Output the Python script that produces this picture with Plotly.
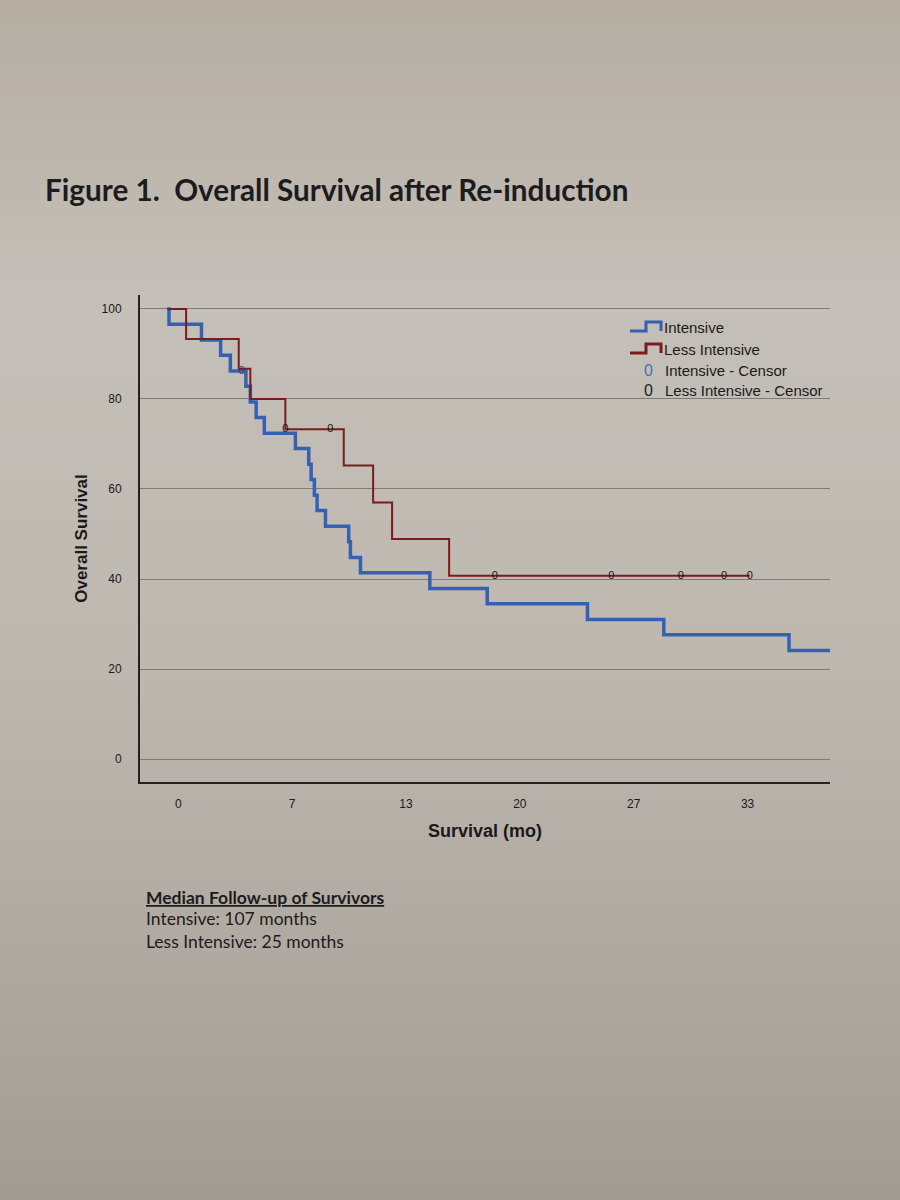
import plotly.graph_objects as go

# ---- data (months, % surviving) ----
intensive_times = [0, 0.1, 2.0, 3.12, 3.69, 4.6, 4.86, 5.2, 5.68, 7.5, 8.28, 8.42, 8.61,
                   8.77, 9.26, 10.62, 10.72, 11.31, 15.37, 18.73, 24.6, 29.07, 36.4]
intensive_surv = [100, 96.6, 93.1, 89.7, 86.2, 82.8, 79.3, 75.9, 72.4, 69.0, 65.5, 62.1, 58.6,
                  55.2, 51.7, 48.3, 44.8, 41.4, 37.9, 34.5, 31.0, 27.6, 24.1]
intensive_end = 40
intensive_censor_t = [4.35]
intensive_censor_s = [86.2]

less_times = [0, 1.1, 4.18, 4.86, 6.91, 10.33, 12.05, 13.16, 16.5]
less_surv = [100, 93.3, 86.7, 80.0, 73.3, 65.2, 57.0, 48.9, 40.7]
less_end = 34.1
less_censor_t = [6.91, 9.55, 19.17, 26.0, 30.07, 32.6, 34.1]
less_censor_s = [73.3, 73.3, 40.7, 40.7, 40.7, 40.7, 40.7]

x_tick_labels = ["0", "7", "13", "20", "27", "33"]
x_tick_offset = 0.64
x_tick_step = 20 / 3
y_ticks = [0, 20, 40, 60, 80, 100]

BLUE = "#3461b3"
RED = "#7a1c1c"
BG_STOPS = [(0, (181, 173, 162)), (300, (196, 191, 184)), (650, (190, 184, 176)),
            (1000, (174, 167, 158)), (1200, (162, 155, 145))]

SANS = "Liberation Sans, Arial"
CAL = "Lato, Open Sans"

fig = go.Figure()

fig.add_trace(go.Scatter(x=intensive_times + [intensive_end],
                         y=intensive_surv + [intensive_surv[-1]],
                         mode="lines", line=dict(shape="hv", color=BLUE, width=3.5),
                         showlegend=False, hoverinfo="skip"))
fig.add_trace(go.Scatter(x=less_times + [less_end],
                         y=less_surv + [less_surv[-1]],
                         mode="lines", line=dict(shape="hv", color=RED, width=2),
                         showlegend=False, hoverinfo="skip"))
fig.add_trace(go.Scatter(x=intensive_censor_t, y=intensive_censor_s, mode="text",
                         text=["0"] * len(intensive_censor_t),
                         textfont=dict(family=SANS, size=11, color="#2c3d63"),
                         showlegend=False, hoverinfo="skip"))
fig.add_trace(go.Scatter(x=less_censor_t, y=less_censor_s, mode="text",
                         text=["0"] * len(less_censor_t),
                         textfont=dict(family=SANS, size=11, color="#151515"),
                         showlegend=False, hoverinfo="skip"))

# plot area in pixels: left 140, right 830, top 295, bottom 782
L, R, T, B = 140, 830, 295, 782
W, H = 900, 1200

def px(x):
    return (x - L) / (R - L)

def py(y):
    return (B - y) / (B - T)

shapes = []
annotations = []

# photographed-paper background (vertical shading bands)
def bg_at(y):
    for (y0, c0), (y1, c1) in zip(BG_STOPS[:-1], BG_STOPS[1:]):
        if y0 <= y <= y1:
            f = (y - y0) / (y1 - y0)
            return tuple(int(round(a + (b - a) * f)) for a, b in zip(c0, c1))
    return BG_STOPS[-1][1]

band = 20
for y0 in range(0, H, band):
    c = bg_at(y0 + band / 2)
    shapes.append(dict(type="rect", xref="paper", yref="paper", layer="below",
                       x0=px(0), x1=px(W), y0=py(y0 + band + 1), y1=py(y0),
                       fillcolor="rgb({},{},{})".format(*c), line=dict(width=0)))

# custom legend
leg_items = [
    ("Intensive", BLUE, 3, 327),
    ("Less Intensive", RED, 3, 349),
]
for label, col, w, yy in leg_items:
    path = "M {} {} L {} {} L {} {} L {} {} L {} {}".format(
        px(630), py(yy + 4), px(646), py(yy + 4), px(646), py(yy - 5),
        px(661), py(yy - 5), px(661), py(yy + 4))
    shapes.append(dict(type="path", xref="paper", yref="paper", path=path,
                       line=dict(color=col, width=w)))
    annotations.append(dict(xref="paper", yref="paper", x=px(662), y=py(yy),
                            text=label, showarrow=False, xanchor="left", yanchor="middle",
                            font=dict(family=SANS, size=15, color="#1a1a1a")))
for label, col, yy in [("Intensive - Censor", "#4a6fb0", 370),
                       ("Less Intensive - Censor", "#222222", 390)]:
    annotations.append(dict(xref="paper", yref="paper", x=px(648), y=py(yy),
                            text="0", showarrow=False, xanchor="center", yanchor="middle",
                            font=dict(family=SANS, size=16, color=col)))
    annotations.append(dict(xref="paper", yref="paper", x=px(663), y=py(yy),
                            text=label, showarrow=False, xanchor="left", yanchor="middle",
                            font=dict(family=SANS, size=15, color="#1a1a1a")))

# title and notes
annotations.append(dict(xref="paper", yref="paper", x=px(43), y=py(189),
                        text="<b>Figure 1.  Overall Survival after Re-induction</b>",
                        showarrow=False, xanchor="left", yanchor="middle",
                        font=dict(family=CAL, size=29.7, color="#1c1c1c")))
annotations.append(dict(xref="paper", yref="paper", x=px(144), y=py(897),
                        text="<b><u>Median Follow-up of Survivors</u></b>",
                        showarrow=False, xanchor="left", yanchor="middle",
                        font=dict(family=CAL, size=17.5, color="#1c1c1c")))
annotations.append(dict(xref="paper", yref="paper", x=px(144), y=py(918),
                        text="Intensive: 107 months",
                        showarrow=False, xanchor="left", yanchor="middle",
                        font=dict(family=CAL, size=17.5, color="#1c1c1c")))
annotations.append(dict(xref="paper", yref="paper", x=px(144), y=py(941),
                        text="Less Intensive: 25 months",
                        showarrow=False, xanchor="left", yanchor="middle",
                        font=dict(family=CAL, size=17.5, color="#1c1c1c")))

fig.update_layout(
    width=W, height=H,
    margin=dict(l=L, r=W - R, t=T, b=H - B),
    paper_bgcolor="rgb(188,182,174)", plot_bgcolor="rgba(0,0,0,0)",
    shapes=shapes, annotations=annotations,
    showlegend=False,
    xaxis=dict(range=[-1.6, 38.8],
               tickvals=[x_tick_offset + i * x_tick_step for i in range(len(x_tick_labels))],
               ticktext=x_tick_labels, showgrid=False, zeroline=False,
               showline=True, linecolor="#222222", linewidth=2,
               ticks="outside", ticklen=10, tickcolor="rgba(0,0,0,0)",
               tickfont=dict(family=SANS, size=12, color="#1a1a1a"),
               title=dict(text="<b>Survival (mo)</b>", standoff=14,
                          font=dict(family=SANS, size=18, color="#1a1a1a"))),
    yaxis=dict(range=[-5.1, 103.1], tickvals=y_ticks,
               showgrid=True, gridcolor="#7f7a73", gridwidth=1.2, zeroline=False,
               showline=True, linecolor="#222222", linewidth=2,
               ticks="outside", ticklen=14, tickcolor="rgba(0,0,0,0)",
               tickfont=dict(family=SANS, size=12, color="#1a1a1a"),
               title=dict(text="<b>Overall Survival</b>", standoff=10,
                          font=dict(family=SANS, size=17, color="#1a1a1a"))),
)

fig.write_html("out.html", config={"displayModeBar": False},
               post_script="document.body.style.margin='0';"
                           "document.body.style.background='rgb(188,182,174)';")
